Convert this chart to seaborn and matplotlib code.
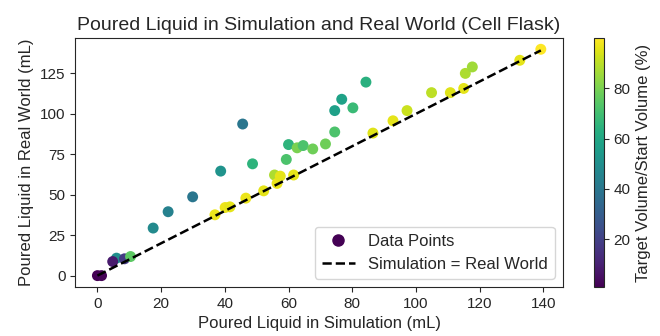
import numpy as np
import pandas as pd
import matplotlib
matplotlib.use("Agg")
import matplotlib.pyplot as plt
import seaborn as sns
from matplotlib.lines import Line2D

sns.set_style("ticks")
plt.rcParams['font.family'] = ['Liberation Sans', 'DejaVu Sans']

sim_ml = [0.0, 1.3, 6.0, 4.8, 8.5, 10.4, 17.5, 22.2, 29.9, 38.7, 45.6, 48.7,
          36.9, 40.1, 41.6, 46.6, 52.2, 55.6, 56.4, 57.4, 61.6, 59.3, 60.0,
          62.7, 64.6, 67.6, 71.6, 74.5, 74.5, 76.7, 80.2, 84.3, 86.5, 92.8,
          97.2, 104.9, 110.8, 115.0, 115.5, 117.7, 132.6, 139.2]
real_ml = [0.0, 0.0, 10.8, 8.7, 10.4, 11.8, 29.4, 39.5, 48.7, 64.6, 93.7, 69.1,
           37.6, 42.1, 42.5, 47.9, 52.4, 62.2, 57.0, 61.5, 62.2, 71.8, 81.0,
           79.0, 80.4, 78.3, 81.4, 88.8, 102.0, 109.0, 103.7, 119.6, 88.1, 95.7,
           102.0, 113.1, 113.1, 115.7, 125.0, 129.0, 133.1, 139.9]
target_pct = [1, 2, 50, 8, 18, 75, 48, 44, 40, 52, 40, 65,
              97, 97, 96, 97, 96, 88, 97, 96, 96, 72, 65,
              80, 72, 78, 78, 72, 57, 58, 68, 64, 95, 96,
              92, 90, 95, 96, 88, 86, 96, 100]

df = pd.DataFrame({"sim": sim_ml, "real": real_ml, "pct": target_pct})
vmin, vmax = min(target_pct), max(target_pct)

fig = plt.figure(figsize=(6.6, 3.36), dpi=100)
ax = fig.add_axes([0.114, 0.146, 0.739, 0.741])
cax = fig.add_axes([0.9, 0.146, 0.015, 0.741])

sns.scatterplot(data=df, x="sim", y="real", hue="pct", palette="viridis",
                hue_norm=(vmin, vmax), s=62, linewidth=0, legend=False, ax=ax)
lims = [0, max(sim_ml)]
ax.plot(lims, lims, 'k--', lw=1.8)

ax.set_title("Poured Liquid in Simulation and Real World (Cell Flask)", fontsize=14)
ax.set_xlabel("Poured Liquid in Simulation (mL)", fontsize=12)
ax.set_ylabel("Poured Liquid in Real World (mL)", fontsize=12)
ax.tick_params(labelsize=11)
ax.set_xticks([0, 20, 40, 60, 80, 100, 120, 140])
ax.set_yticks([0, 25, 50, 75, 100, 125])

handles = [Line2D([], [], marker='o', ls='', color=plt.cm.viridis(0.0), markersize=8),
           Line2D([], [], ls='--', color='k', lw=1.8)]
ax.legend(handles, ["Data Points", "Simulation = Real World"], loc="lower right",
          fontsize=12)

sm = plt.cm.ScalarMappable(cmap="viridis", norm=plt.Normalize(vmin, vmax))
cb = fig.colorbar(sm, cax=cax)
cb.set_label("Target Volume/Start Volume (%)", fontsize=12)
cb.set_ticks([20, 40, 60, 80])
cb.ax.tick_params(labelsize=11)

fig.savefig("out.png", dpi=100)
